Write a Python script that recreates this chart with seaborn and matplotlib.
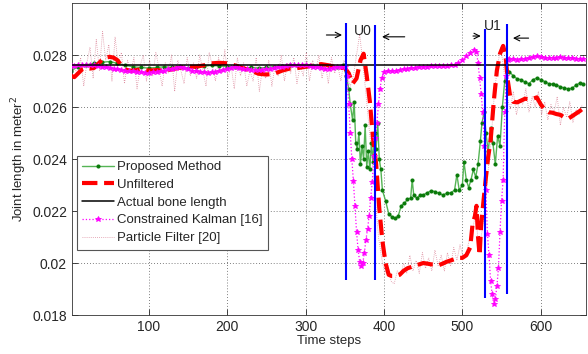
import numpy as np
import pandas as pd
import seaborn as sns
import matplotlib
matplotlib.use('Agg')
import matplotlib.pyplot as plt

# ---- data ----
actual_length = 0.02760

unf_t = [1, 5, 10, 15, 20, 25, 30, 35, 40, 45, 50, 55, 60, 65, 70, 75, 80, 90, 100, 110,
         120, 130, 140, 150, 160, 170, 180, 190, 200, 210, 220, 230, 240, 250, 260, 270, 280, 290, 300, 310,
         320, 330, 340, 350, 355, 360, 365, 370, 374, 378, 382, 386, 390, 394, 398, 402, 406, 410, 415, 420,
         425, 430, 435, 440, 445, 450, 455, 460, 465, 470, 475, 480, 485, 490, 495, 500, 505, 510, 513, 516,
         518, 520, 522, 524, 527, 530, 533, 536, 540, 544, 548, 552, 555, 558, 561, 565, 570, 575, 580, 585,
         590, 595, 600, 605, 610, 615, 620, 625, 630, 635, 640, 645, 650, 654]
unf_v = [0.0272, 0.02715, 0.0273, 0.02745, 0.0275, 0.02748, 0.0275, 0.02765, 0.0278, 0.0279,
         0.02793, 0.0279, 0.0278, 0.0276, 0.02745, 0.0274, 0.0274, 0.02745, 0.0274, 0.02742,
         0.0274, 0.02745, 0.02752, 0.02755, 0.02755, 0.0276, 0.02768, 0.0277, 0.02768, 0.0276,
         0.0275, 0.0274, 0.02728, 0.02725, 0.02728, 0.0274, 0.02748, 0.0275, 0.02755, 0.0276,
         0.02765, 0.0276, 0.02752, 0.0275, 0.0273, 0.0269, 0.0271, 0.0278, 0.02805, 0.0272,
         0.0262, 0.0248, 0.0238, 0.0221, 0.02085, 0.0200, 0.01955, 0.0195, 0.0195, 0.01955,
         0.0197, 0.0198, 0.01985, 0.0199, 0.01995, 0.0200, 0.01998, 0.01995, 0.01995, 0.01992,
         0.01998, 0.02005, 0.0201, 0.02015, 0.0202, 0.0202, 0.0203, 0.0206, 0.0215, 0.0218,
         0.0222, 0.0210, 0.0203, 0.0215, 0.0224, 0.0233, 0.0241, 0.0247, 0.0262, 0.0274,
         0.02805, 0.02835, 0.0280, 0.0270, 0.0264, 0.0262, 0.02618, 0.02625, 0.02632, 0.0263,
         0.02632, 0.02637, 0.0261, 0.0259, 0.0258, 0.02578, 0.02573, 0.0257, 0.0256, 0.02555,
         0.02565, 0.02575, 0.02585, 0.02595]

prop_t = [1, 10, 20, 30, 40, 50, 60, 70, 80, 90, 100, 110, 120, 130, 140, 150, 160, 170, 180, 190,
          200, 210, 220, 230, 240, 250, 260, 270, 280, 290, 300, 310, 320, 330, 340, 348, 352, 355, 357, 360,
          362, 364, 366, 368, 370, 372, 374, 376, 378, 380, 382, 384, 386, 388, 390, 392, 394, 396, 398, 402,
          406, 410, 414, 418, 422, 426, 430, 434, 436, 438, 442, 446, 450, 455, 460, 465, 470, 475, 480, 485,
          490, 493, 496, 500, 502, 505, 508, 511, 514, 517, 520, 523, 525, 528, 530, 533, 536, 539, 542, 545,
          548, 551, 554, 557, 560, 565, 570, 575, 580, 585, 590, 595, 600, 605, 610, 615, 620, 625, 630, 635,
          640, 645, 650, 654]
prop_v = [0.0274, 0.02755, 0.02762, 0.02768, 0.02772, 0.02775, 0.02768, 0.0276, 0.02755, 0.02752,
          0.0275, 0.02752, 0.02755, 0.02752, 0.02755, 0.0275, 0.02755, 0.02758, 0.0276, 0.02758,
          0.02755, 0.02755, 0.0275, 0.02752, 0.0275, 0.02752, 0.02755, 0.02757, 0.0276, 0.02758,
          0.02756, 0.02758, 0.0276, 0.02758, 0.02755, 0.0276, 0.0272, 0.0267, 0.0261, 0.0255,
          0.0262, 0.0246, 0.0244, 0.0250, 0.0238, 0.0245, 0.0240, 0.0253, 0.0237, 0.0243,
          0.0236, 0.0246, 0.0239, 0.0250, 0.0244, 0.0254, 0.0240, 0.0236, 0.0228, 0.0224,
          0.0219, 0.02178, 0.02172, 0.0218, 0.0222, 0.0223, 0.02245, 0.0225, 0.0232, 0.0226,
          0.0225, 0.0226, 0.02262, 0.0227, 0.02278, 0.02275, 0.02268, 0.02262, 0.02268, 0.0227,
          0.0228, 0.0234, 0.0228, 0.0230, 0.0239, 0.0232, 0.0229, 0.0232, 0.0236, 0.0233,
          0.0238, 0.0247, 0.0254, 0.0258, 0.0250, 0.0243, 0.0252, 0.0246, 0.0238, 0.0249,
          0.0245, 0.0260, 0.0270, 0.0274, 0.02735, 0.0272, 0.02708, 0.02705, 0.02695, 0.0269,
          0.02705, 0.02712, 0.02705, 0.02698, 0.0269, 0.02688, 0.02685, 0.02678, 0.02673, 0.0267,
          0.02672, 0.02685, 0.02692, 0.0269]

kal_t = [1, 5, 10, 15, 20, 25, 30, 35, 40, 45, 50, 55, 60, 65, 70, 75, 80, 85, 90, 95,
         100, 105, 110, 115, 120, 125, 130, 135, 140, 145, 150, 155, 160, 165, 170, 175, 180, 185, 190, 195,
         200, 205, 210, 215, 220, 225, 230, 235, 240, 245, 250, 255, 260, 265, 270, 275, 280, 285, 290, 295,
         300, 305, 310, 315, 320, 325, 330, 335, 340, 345, 350, 353, 355, 357, 359, 361, 363, 365, 367, 369,
         371, 373, 375, 377, 379, 381, 383, 385, 387, 389, 391, 393, 395, 397, 400, 405, 410, 415, 420, 425,
         430, 435, 440, 445, 450, 455, 460, 465, 470, 475, 480, 485, 490, 495, 500, 505, 510, 515, 518, 520,
         522, 524, 526, 528, 530, 532, 534, 536, 538, 540, 542, 544, 546, 548, 550, 552, 554, 556, 558, 560,
         565, 570, 575, 580, 585, 590, 595, 600, 605, 610, 615, 620, 625, 630, 635, 640, 645, 650, 654]
kal_v = [0.0276, 0.02758, 0.0276, 0.02762, 0.02763, 0.02763, 0.0276, 0.02757, 0.02755, 0.02752,
         0.0275, 0.02748, 0.02745, 0.02743, 0.0274, 0.02738, 0.02737, 0.02735, 0.02733, 0.02732,
         0.02732, 0.02733, 0.02735, 0.02738, 0.0274, 0.02745, 0.02748, 0.0275, 0.02752, 0.0275,
         0.02745, 0.0274, 0.02737, 0.02735, 0.02733, 0.02732, 0.02733, 0.02735, 0.02738, 0.02742,
         0.02748, 0.0275, 0.02752, 0.0275, 0.02748, 0.02745, 0.02743, 0.02742, 0.02742, 0.02743,
         0.02745, 0.02748, 0.0275, 0.02752, 0.02755, 0.02758, 0.0276, 0.02762, 0.02763, 0.02762,
         0.0276, 0.02757, 0.02755, 0.02752, 0.0275, 0.02748, 0.02748, 0.0275, 0.02752, 0.02755,
         0.02755, 0.0272, 0.0261, 0.0250, 0.0240, 0.02315, 0.0222, 0.0212, 0.0205, 0.02005,
         0.0199, 0.0200, 0.0204, 0.0209, 0.0213, 0.0218, 0.0225, 0.0231, 0.0241, 0.0248,
         0.0254, 0.0261, 0.0267, 0.0271, 0.02735, 0.0274, 0.02738, 0.0274, 0.02742, 0.02745,
         0.02748, 0.0275, 0.0275, 0.02752, 0.02755, 0.02755, 0.02757, 0.02757, 0.02758, 0.02758,
         0.02758, 0.0276, 0.02762, 0.02768, 0.0278, 0.02795, 0.02808, 0.0282, 0.0281, 0.0277,
         0.0271, 0.0265, 0.0258, 0.0245, 0.0228, 0.0211, 0.0203, 0.0193, 0.0188, 0.01843,
         0.0186, 0.0191, 0.0198, 0.0212, 0.0224, 0.0232, 0.0258, 0.0272, 0.0278, 0.02785,
         0.02783, 0.0278, 0.02783, 0.02785, 0.02788, 0.02793, 0.02796, 0.02792, 0.0279, 0.02788,
         0.02788, 0.0279, 0.02792, 0.0279, 0.02788, 0.02787, 0.02786, 0.02785, 0.02785]

pf_t = np.arange(1, 654, 4)
pf_v = [0.0270, 0.0276, 0.0272, 0.0279, 0.0268, 0.0277, 0.0283, 0.0271, 0.0286, 0.0274,
        0.0289, 0.0278, 0.0284, 0.0270, 0.0287, 0.0276, 0.0281, 0.0269, 0.0278, 0.0273,
        0.0279, 0.0267, 0.0276, 0.0280, 0.0270, 0.0278, 0.0272, 0.0281, 0.0275, 0.0268,
        0.0277, 0.0273, 0.0280, 0.0266, 0.0278, 0.0274, 0.0269, 0.0279, 0.0272, 0.0277,
        0.0271, 0.0280, 0.0274, 0.0268, 0.0281, 0.0276, 0.0270, 0.0279, 0.0273, 0.0282,
        0.0271, 0.0276, 0.0267, 0.0279, 0.0272, 0.0277, 0.0268, 0.0274, 0.0270, 0.0279,
        0.0266, 0.0275, 0.0271, 0.0278, 0.0268, 0.0276, 0.0272, 0.0280, 0.0270, 0.0277,
        0.0273, 0.0279, 0.0269, 0.0276, 0.0272, 0.0281, 0.0270, 0.0278, 0.0274, 0.0280,
        0.0271, 0.0277, 0.0269, 0.0279, 0.0273, 0.0276, 0.0270, 0.0278, 0.0272, 0.0268,
        0.0272, 0.0280, 0.0288, 0.0277, 0.0265, 0.0252, 0.0240, 0.0225, 0.0210, 0.0202,
        0.0196, 0.0199, 0.0193, 0.0192, 0.0197, 0.0195, 0.0200, 0.0196, 0.0203, 0.0197,
        0.0201, 0.0196, 0.0204, 0.0198, 0.0202, 0.0197, 0.0205, 0.0199, 0.0203, 0.0197,
        0.0204, 0.0199, 0.0206, 0.0201, 0.0207, 0.0202, 0.0204, 0.0209, 0.0213, 0.0219,
        0.0205, 0.0212, 0.0222, 0.0236, 0.0249, 0.0266, 0.0276, 0.0283, 0.0274, 0.0264,
        0.0259, 0.0266, 0.0257, 0.0263, 0.0261, 0.0267, 0.0258, 0.0264, 0.0260, 0.0266,
        0.0257, 0.0262, 0.0255, 0.0261, 0.0258, 0.0264, 0.0253, 0.0260, 0.0256, 0.0262,
        0.0254, 0.0259, 0.0257, 0.0261]

# uncertainty windows (blue bars)
win_t = [352, 389, 529, 557]
win_lo = [0.01935, 0.01935, 0.01865, 0.0188]
win_hi = [0.02923, 0.02915, 0.0290, 0.0292]
win_names = ['U0', 'U1']

ytick_vals = [0.018, 0.020, 0.022, 0.024, 0.026, 0.028]
ytick_labels = ['0.018', '0.02', '0.022', '0.024', '0.026', '0.028']
xtick_vals = [100, 200, 300, 400, 500, 600]

sns.set_style('ticks')
plt.rcParams['font.family'] = ['Liberation Sans', 'DejaVu Sans']

fig = plt.figure(figsize=(5.88, 3.54), dpi=100)
ax = fig.add_axes([0.1224, 0.11, 0.8746, 0.8815])

sns.lineplot(x=pf_t, y=pf_v, ax=ax, estimator=None, sort=False, color='#d0607a', lw=0.6,
             linestyle=(0, (1, 1.5)), alpha=0.7, zorder=1, label='Particle Filter [20]')
sns.lineplot(x=prop_t, y=prop_v, ax=ax, estimator=None, sort=False, color='#55b455', lw=1,
             marker='o', markersize=2.2, markerfacecolor='#0a7a0a', markeredgecolor='#0a7a0a',
             zorder=2, label='Proposed Method')
sns.lineplot(x=unf_t, y=unf_v, ax=ax, estimator=None, sort=False, color='#ff0000', lw=3,
             linestyle='--', dashes=(2.4, 1.0), zorder=3, label='Unfiltered')
ax.axhline(actual_length, color='black', lw=1.1, zorder=4, label='Actual bone length')
sns.lineplot(x=kal_t, y=kal_v, ax=ax, estimator=None, sort=False, color='#ff00ff', lw=0.9,
             linestyle=':', marker='*', markersize=4, markeredgewidth=0.6,
             markerfacecolor='#ff00ff', markeredgecolor='#ff00ff', zorder=3.5,
             label='Constrained Kalman [16]')

ax.vlines(win_t, win_lo, win_hi, colors='#0000ff', lw=1.5, zorder=5)

arrow = dict(arrowstyle='->', lw=0.8, color='black')
ax.annotate('', xy=(win_t[0] - 2, 0.02877), xytext=(323, 0.02877), arrowprops=arrow)
ax.annotate('', xy=(win_t[1] + 5, 0.0287), xytext=(430, 0.0287), arrowprops=arrow)
ax.annotate('', xy=(win_t[2] - 2, 0.02873), xytext=(510, 0.02873), arrowprops=arrow)
ax.annotate('', xy=(win_t[3] + 4, 0.02865), xytext=(588, 0.02865), arrowprops=arrow)
ax.text(373, 0.02892, win_names[0], fontsize=10, ha='center', va='center')
ax.text(539, 0.02911, win_names[1], fontsize=10, ha='center', va='center')

ax.set_xlim(2, 658)
ax.set_ylim(0.018, 0.030)
ax.set_xticks(xtick_vals)
ax.set_yticks(ytick_vals)
ax.set_yticklabels(ytick_labels)
ax.tick_params(direction='in', top=True, right=True, labelsize=10, length=4, width=0.6)
ax.grid(True, linestyle=(0, (1, 2.5)), color='#555555', lw=0.6)
for s in ax.spines.values():
    s.set_linewidth(0.6)
    s.set_color('#333333')

ax.set_xlabel('Time steps', fontsize=9.5, labelpad=1)
ax.set_ylabel('Joint length in meter$^2$', fontsize=9.5, labelpad=2)

handles, labels = ax.get_legend_handles_labels()
order = ['Proposed Method', 'Unfiltered', 'Actual bone length', 'Constrained Kalman [16]',
         'Particle Filter [20]']
hmap = dict(zip(labels, handles))
leg = ax.legend([hmap[k] for k in order], order, loc='lower left', bbox_to_anchor=(0.01, 0.21),
                fontsize=9.5, frameon=True, fancybox=False, framealpha=1, edgecolor='#555555',
                borderpad=0.4, labelspacing=0.42, handlelength=2.4, handletextpad=0.2,
                borderaxespad=0)
leg.get_frame().set_linewidth(0.8)

fig.savefig('out.png', dpi=100)
